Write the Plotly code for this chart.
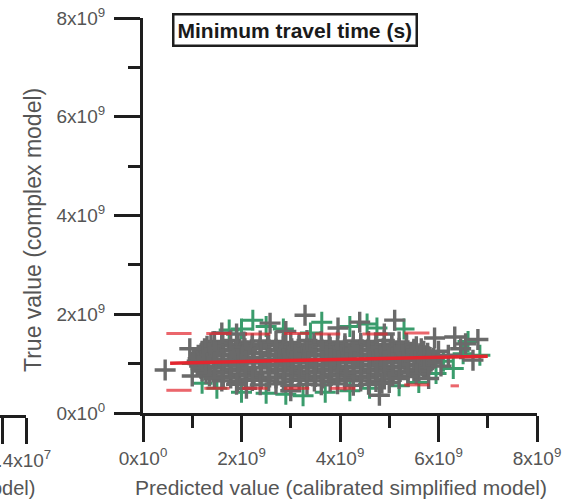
import plotly.graph_objects as go

# ---- data (values in units of 1e9 s) ----
gray_x = [
    # row ~1.45
    1.45, 1.78, 2.05, 2.38, 2.70, 3.00, 3.33, 3.62, 3.95, 4.27, 4.58, 4.90, 5.20,
    # row ~1.40
    1.38, 1.62, 1.93, 2.22, 2.53, 2.85, 3.17, 3.47, 3.78, 4.10, 4.42, 4.73, 5.05, 5.35,
    # row ~1.35
    1.30, 1.60, 1.92, 2.22, 2.55, 2.85, 3.17, 3.48, 3.80, 4.10, 4.42, 4.73, 5.05, 5.35, 5.55,
    # row ~1.30
    1.25, 1.45, 1.77, 2.07, 2.38, 2.70, 3.02, 3.33, 3.63, 3.95, 4.27, 4.57, 4.88, 5.20, 5.50, 5.65,
    # row ~1.25
    1.20, 1.47, 1.78, 2.10, 2.40, 2.72, 3.03, 3.33, 3.65, 3.95, 4.27, 4.58, 4.90, 5.20, 5.50, 5.70,
    # row ~1.20
    1.18, 1.35, 1.63, 1.95, 2.25, 2.57, 2.88, 3.18, 3.50, 3.80, 4.12, 4.43, 4.75, 5.05, 5.35, 5.62, 5.78,
    # row ~1.15
    1.15, 1.32, 1.62, 1.95, 2.25, 2.57, 2.88, 3.20, 3.50, 3.82, 4.12, 4.43, 4.75, 5.05, 5.37, 5.65, 5.80,
    # row ~1.10
    1.12, 1.28, 1.60, 1.92, 2.23, 2.55, 2.85, 3.17, 3.50, 3.80, 4.12, 4.43, 4.73, 5.05, 5.37, 5.70, 5.90,
    # row ~1.05
    1.10, 1.45, 1.78, 2.08, 2.40, 2.70, 3.02, 3.35, 3.65, 3.97, 4.28, 4.60, 4.90, 5.22, 5.52, 5.85,
    # row ~1.00
    1.12, 1.30, 1.62, 1.93, 2.25, 2.55, 2.87, 3.18, 3.50, 3.82, 4.13, 4.45, 4.77, 5.07, 5.38, 5.70, 5.82,
    # row ~0.95
    1.15, 1.32, 1.62, 1.93, 2.25, 2.55, 2.87, 3.18, 3.50, 3.80, 4.13, 4.43, 4.75, 5.07, 5.38, 5.68, 5.75,
    # row ~0.90
    1.18, 1.47, 1.78, 2.10, 2.40, 2.72, 3.03, 3.35, 3.65, 3.97, 4.28, 4.60, 4.90, 5.22, 5.52, 5.70,
    # row ~0.85
    1.20, 1.48, 1.78, 2.10, 2.40, 2.72, 3.03, 3.33, 3.65, 3.97, 4.27, 4.60, 4.90, 5.22, 5.50, 5.60,
    # row ~0.80
    1.28, 1.62, 1.93, 2.25, 2.55, 2.87, 3.18, 3.50, 3.80, 4.12, 4.43, 4.75, 5.07, 5.38, 5.55,
    # row ~0.75
    1.35, 1.63, 1.95, 2.25, 2.57, 2.88, 3.20, 3.50, 3.82, 4.12, 4.43, 4.75, 5.07, 5.38,
    # row ~0.70
    1.45, 1.78, 2.08, 2.40, 2.70, 3.02, 3.33, 3.65, 3.95, 4.27, 4.58, 4.90, 5.20,
    # row ~0.65
    1.60, 1.92, 2.22, 2.55, 2.85, 3.17, 3.48, 3.80, 4.10, 4.42, 4.73, 5.00,
    # row ~0.58
    1.90, 2.38, 2.70, 3.00, 3.33, 3.62, 3.95, 4.27, 4.58, 4.85,
    # scattered outliers
    0.45, 1.60, 2.58, 3.29, 3.96, 4.40, 5.11, 5.92, 6.33, 6.80, 6.20, 6.70, 6.45,
    6.05, 4.80, 3.00, 2.10, 1.00, 0.95, 5.80, 2.90, 4.90, 1.90, 6.55, 6.00,
]
gray_y = [
    1.45, 1.47, 1.44, 1.46, 1.45, 1.43, 1.47, 1.45, 1.44, 1.46, 1.45, 1.47, 1.44,
    1.40, 1.41, 1.39, 1.40, 1.41, 1.39, 1.40, 1.41, 1.39, 1.40, 1.41, 1.39, 1.40, 1.41,
    1.35, 1.36, 1.34, 1.35, 1.37, 1.34, 1.35, 1.36, 1.33, 1.35, 1.36, 1.34, 1.35, 1.36, 1.34,
    1.30, 1.31, 1.29, 1.30, 1.31, 1.29, 1.30, 1.31, 1.29, 1.30, 1.31, 1.29, 1.30, 1.31, 1.29, 1.30,
    1.25, 1.24, 1.26, 1.25, 1.23, 1.26, 1.25, 1.24, 1.26, 1.25, 1.24, 1.26, 1.25, 1.24, 1.26, 1.25,
    1.20, 1.21, 1.19, 1.20, 1.21, 1.19, 1.20, 1.21, 1.19, 1.20, 1.21, 1.19, 1.20, 1.21, 1.19, 1.20, 1.21,
    1.15, 1.14, 1.16, 1.15, 1.13, 1.16, 1.15, 1.14, 1.16, 1.15, 1.14, 1.16, 1.15, 1.14, 1.16, 1.15, 1.14,
    1.10, 1.11, 1.09, 1.10, 1.11, 1.09, 1.10, 1.11, 1.09, 1.10, 1.11, 1.09, 1.10, 1.11, 1.09, 1.10, 1.11,
    1.05, 1.04, 1.06, 1.05, 1.03, 1.06, 1.05, 1.04, 1.06, 1.05, 1.04, 1.06, 1.05, 1.04, 1.06, 1.05,
    1.00, 1.01, 0.99, 1.00, 1.01, 0.99, 1.00, 1.01, 0.99, 1.00, 1.01, 0.99, 1.00, 1.01, 0.99, 1.00, 1.01,
    0.95, 0.94, 0.96, 0.95, 0.93, 0.96, 0.95, 0.94, 0.96, 0.95, 0.94, 0.96, 0.95, 0.94, 0.96, 0.95, 0.94,
    0.90, 0.91, 0.89, 0.90, 0.91, 0.89, 0.90, 0.91, 0.89, 0.90, 0.91, 0.89, 0.90, 0.91, 0.89, 0.90,
    0.85, 0.84, 0.86, 0.85, 0.83, 0.86, 0.85, 0.84, 0.86, 0.85, 0.84, 0.86, 0.85, 0.84, 0.86, 0.85,
    0.80, 0.81, 0.79, 0.80, 0.81, 0.79, 0.80, 0.81, 0.79, 0.80, 0.81, 0.79, 0.80, 0.81, 0.79,
    0.75, 0.74, 0.76, 0.75, 0.73, 0.76, 0.75, 0.74, 0.76, 0.75, 0.74, 0.76, 0.75, 0.74,
    0.70, 0.71, 0.69, 0.70, 0.71, 0.69, 0.70, 0.71, 0.69, 0.70, 0.71, 0.69, 0.70,
    0.65, 0.64, 0.66, 0.65, 0.63, 0.66, 0.65, 0.64, 0.66, 0.65, 0.64, 0.62,
    0.58, 0.57, 0.59, 0.56, 0.58, 0.57, 0.59, 0.56, 0.58, 0.60,
    0.87, 1.62, 1.82, 1.98, 1.72, 1.84, 1.88, 1.52, 1.54, 1.49, 1.17, 1.07, 1.30,
    0.95, 0.36, 0.45, 0.50, 0.75, 1.30, 0.70, 1.65, 1.60, 1.60, 1.40, 1.25,
]

green_x = [2.00, 2.23, 2.50, 2.85, 3.63, 4.20, 4.55, 4.75, 5.30, 3.40, 1.75,
           6.84, 6.50, 6.10, 6.30, 5.95, 6.60,
           1.50, 2.00, 2.50, 2.90, 3.25, 3.70, 4.20, 4.60, 5.20, 5.60, 1.20, 1.00]
green_y = [1.70, 1.88, 1.75, 1.70, 1.84, 1.75, 1.80, 1.72, 1.70, 1.62, 1.68,
           1.17, 1.20, 1.05, 0.90, 0.80, 1.45,
           0.50, 0.42, 0.40, 0.38, 0.35, 0.42, 0.45, 0.50, 0.55, 0.62, 0.60, 1.00]

bound_x = [0.73, 1.54, 2.33, 3.12, 3.75, 4.71, 5.56,
           0.73, 1.50, 2.27, 3.12, 4.06, 5.56, 6.33]
bound_y = [1.61, 1.61, 1.60, 1.61, 1.60, 1.60, 1.62,
           0.46, 0.50, 0.50, 0.50, 0.50, 0.57, 0.55]
bound_size = [18, 18, 18, 18, 18, 18, 18, 18, 18, 18, 18, 18, 18, 6]

fit_x = [0.55, 7.00]
fit_y = [1.01, 1.15]

tick_vals = [0, 2, 4, 6, 8]
tick_text = ["0x10<sup>0</sup>", "2x10<sup>9</sup>", "4x10<sup>9</sup>",
             "6x10<sup>9</sup>", "8x10<sup>9</sup>"]

# neighbouring panel remnant (units of 1e7)
left_tick_vals = [2.2, 2.4]
left_tick_text = ["", "2.4x10<sup>7</sup>"]

assert len(gray_x) == len(gray_y)
assert len(green_x) == len(green_y)
assert len(bound_x) == len(bound_y) == len(bound_size)

FONT = "Liberation Sans, Arial, sans-serif"
GRAY = "#6a6a6a"
GREEN = "#3a9c6c"
RED = "#e3262f"
AX = "#1e1e1e"
LBL = "#555555"

fig = go.Figure()
fig.add_trace(go.Scatter(x=green_x, y=green_y, mode="markers",
                         marker=dict(symbol="cross-thin", size=15,
                                     line=dict(color=GREEN, width=3))))
fig.add_trace(go.Scatter(x=gray_x, y=gray_y, mode="markers",
                         marker=dict(symbol="cross-thin", size=15,
                                     line=dict(color=GRAY, width=3.4))))
fig.add_trace(go.Scatter(x=bound_x, y=bound_y, mode="markers",
                         marker=dict(symbol="line-ew", size=bound_size,
                                     line=dict(color=RED, width=3))))
fig.add_trace(go.Scatter(x=fit_x, y=fit_y, mode="lines",
                         line=dict(color=RED, width=3.5)))
# remnant axis of the neighbouring panel
fig.add_trace(go.Scatter(x=[], y=[], xaxis="x2", yaxis="y2"))

axis_common = dict(showline=True, linecolor=AX, linewidth=2.5, ticks="outside",
                   ticklen=26, tickwidth=2.5, tickcolor=AX, showgrid=False,
                   zeroline=False, tickfont=dict(family=FONT, size=19, color=LBL),
                   automargin=False, ticklabeloverflow="allow")
minor_common = dict(ticks="outside", ticklen=12, tickwidth=2.5,
                    tickcolor=AX, dtick=1, tick0=0)

fig.update_layout(
    width=577, height=503,
    margin=dict(l=0, r=0, t=0, b=0),
    paper_bgcolor="white", plot_bgcolor="white",
    showlegend=False,
    xaxis=dict(domain=[143/577, 537/577], range=[0, 8], tickvals=tick_vals,
               ticktext=tick_text, anchor="y", minor=minor_common,
               **axis_common),
    yaxis=dict(domain=[90/503, 485/503], range=[0, 8], tickvals=tick_vals,
               ticktext=[t + "\u00a0" for t in tick_text], anchor="x",
               minor=minor_common, **axis_common),
    xaxis2=dict(domain=[0, 26/577], range=[2.1833, 2.4], tickvals=left_tick_vals,
                ticktext=left_tick_text, anchor="y2", ticklabelshift=-7,
                **axis_common),
    yaxis2=dict(domain=[88/503, 150/503], range=[0, 1], visible=False,
                anchor="x2"),
    annotations=[
        dict(text="<b>Minimum travel time (s)</b>", xref="paper", yref="paper",
             x=295/577, y=(503-30)/503, xanchor="center", yanchor="middle",
             showarrow=False,
             font=dict(family=FONT, size=21, color="#1a1a1a"),
             bordercolor=AX, borderwidth=2.5, borderpad=3, bgcolor="white"),
        dict(text="Predicted value (calibrated simplified model)", xref="paper",
             yref="paper", x=341/577, y=(503-487)/503, xanchor="center",
             yanchor="middle", showarrow=False,
             font=dict(family=FONT, size=21, color=LBL)),
        dict(text="True value (complex model)", xref="paper", yref="paper",
             x=33/577, y=(503-230)/503, xanchor="center", yanchor="middle",
             showarrow=False, textangle=-90,
             font=dict(family=FONT, size=23, color=LBL)),
        dict(text="Predicted value (calibrated simplified model)", xref="paper",
             yref="paper", x=37/577, y=(503-488)/503, xanchor="right",
             yanchor="middle", showarrow=False,
             font=dict(family=FONT, size=20, color=LBL)),
    ],
)

fig.write_html("out.html", config={"displayModeBar": False},
               post_script="document.body.style.margin='0';")
